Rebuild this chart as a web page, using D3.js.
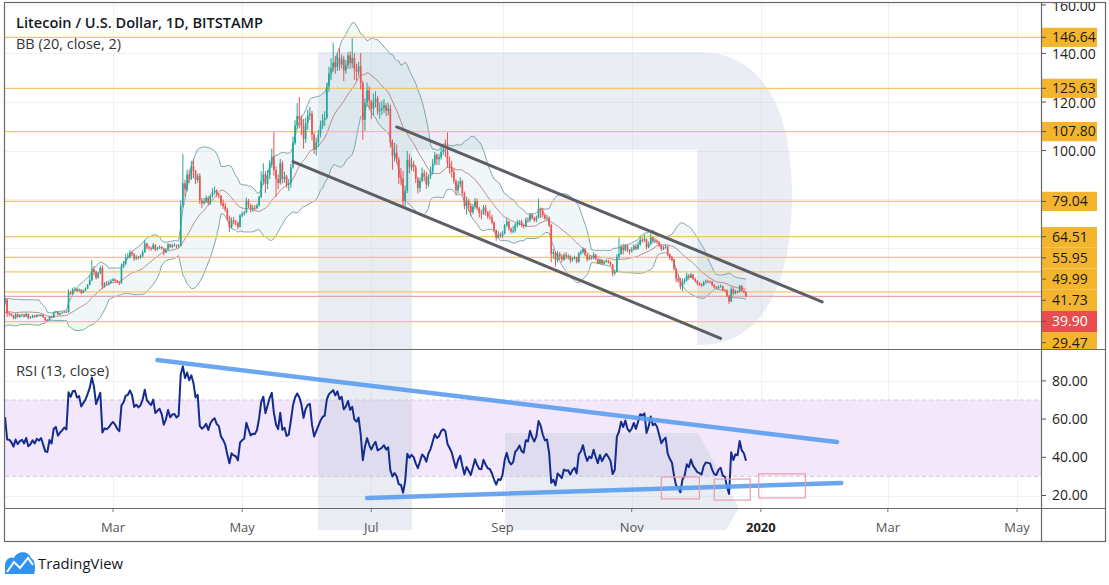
<!DOCTYPE html>
<html><head><meta charset="utf-8">
<script src="https://cdn.jsdelivr.net/npm/d3@7/dist/d3.min.js"></script>
<style>html,body{margin:0;padding:0;background:#fff;}svg{display:block;}</style>
</head><body>
<svg id="chart" width="1109" height="585"></svg>
<script>
// ---------------- DATA ----------------
const title = "Litecoin / U.S. Dollar, 1D, BITSTAMP";
const bbLabel = "BB (20, close, 2)";
const rsiLabel = "RSI (13, close)";
const startDate = "2019-01-09";          // first drawn candle
const warmupClose = [30.8,29.2,32.0,33.1,35.9,31.6,32.0,29.0,32.5,31.2,32.2,30.5,31.9,33.6,32.0,33.5,33.0,39.6,37.5,37.3];
const close = [
 // Jan 9-31
 38.6,32.9,32.8,32.1,30.9,32.6,31.4,32.1,32.4,31.6,32.7,30.9,31.3,32.0,31.4,32.2,31.9,32.3,31.3,30.1,30.0,31.6,31.1,
 // Feb
 33.3,33.6,32.4,32.9,33.2,33.6,33.4,41.5,40.9,42.8,43.0,42.2,42.6,41.4,42.3,43.1,44.6,46.6,51.1,50.0,47.6,49.5,51.6,44.0,45.2,45.0,45.5,46.3,
 // Mar
 46.9,46.4,45.7,45.3,52.1,53.2,55.8,56.1,58.0,57.3,55.5,56.2,55.8,56.4,58.1,61.7,60.2,59.8,59.5,61.1,59.2,59.8,60.3,59.6,58.1,59.2,61.3,60.3,60.9,61.0,60.6,
 // Apr
 60.9,77.4,86.5,84.0,90.1,88.3,93.5,91.6,87.8,89.6,79.4,78.3,79.1,80.5,78.4,81.3,82.8,83.6,81.9,81.3,78.2,77.1,75.6,72.1,68.5,71.2,70.4,70.1,68.6,73.2,
 // May
 73.9,74.4,79.3,77.6,75.9,76.4,76.3,77.4,80.8,87.4,90.2,86.3,89.8,94.2,97.5,92.0,88.2,86.6,94.8,88.2,89.3,85.9,86.5,93.1,103.2,110.3,114.2,112.8,110.1,104.8,111.3,
 // Jun
 114.5,115.2,106.5,100.4,103.5,106.8,110.2,112.6,113.5,126.4,131.8,133.9,136.2,134.3,138.2,135.4,137.6,133.0,135.1,139.2,136.0,138.1,133.4,132.5,134.8,127.9,112.6,119.7,124.8,120.5,
 // Jul
 117.3,119.8,121.5,116.2,116.8,117.5,118.6,116.4,117.3,103.2,97.8,99.1,96.3,88.8,88.4,79.2,83.5,96.2,93.1,94.6,93.0,88.4,84.6,87.5,90.6,89.2,86.0,89.4,91.3,94.6,98.1,
 // Aug
 96.4,97.2,99.5,100.3,99.6,94.8,93.1,91.2,87.4,83.6,86.0,87.3,82.4,77.1,79.4,77.2,74.6,76.8,79.2,76.3,74.2,74.1,76.6,74.5,72.7,72.4,70.3,67.2,64.2,65.4,64.9,
 // Sep
 65.9,69.1,70.8,67.8,66.6,67.1,69.4,69.9,70.8,69.3,68.9,71.5,71.2,73.6,72.2,71.3,72.4,76.1,75.2,73.4,72.1,72.3,69.2,57.4,58.1,54.8,57.4,56.3,55.1,56.9,
 // Oct
 56.4,56.5,54.8,55.6,56.0,54.1,57.6,58.2,59.5,57.0,55.2,56.0,55.6,57.1,55.3,53.6,55.0,53.4,54.1,54.6,53.9,53.0,49.4,50.0,56.2,57.4,60.1,59.0,60.8,59.1,58.5,
 // Nov
 59.2,60.6,59.5,61.2,63.2,63.0,63.5,60.2,61.6,64.2,62.6,63.0,62.4,61.0,59.4,60.0,60.4,57.2,56.0,55.1,51.3,47.2,46.4,44.0,46.0,46.6,48.5,47.6,48.9,47.1,
 // Dec 1-25
 46.2,45.2,44.9,44.5,45.6,46.1,46.0,45.9,44.6,43.6,43.4,43.9,44.1,42.6,42.4,40.1,37.8,42.9,41.1,42.0,41.8,44.1,42.2,41.6,39.9
];
const high = [
 39.0,38.9,33.5,33.0,32.3,33.0,32.9,32.6,32.8,32.6,33.2,32.8,31.8,32.4,32.3,32.5,32.6,32.5,32.4,31.3,30.6,31.9,31.9,
 33.7,34.0,33.7,33.2,33.5,33.9,33.8,42.9,42.3,43.5,43.8,43.3,43.2,42.9,42.7,43.6,45.0,48.8,54.8,52.3,50.5,50.0,52.3,52.6,45.8,46.2,46.4,47.0,
 47.5,47.2,46.7,46.0,53.5,54.5,57.3,57.8,59.2,58.6,57.8,56.9,56.6,57.2,58.9,63.2,62.0,60.9,60.4,61.9,61.4,60.3,60.9,60.5,60.0,59.8,61.9,61.6,61.5,61.8,61.3,
 61.5,79.5,98.5,88.0,92.0,92.2,95.8,96.5,92.0,90.5,90.6,80.5,80.5,81.5,81.2,82.0,84.5,85.2,84.0,82.5,81.7,79.8,78.5,76.4,73.2,72.5,72.6,71.5,70.8,73.9,
 74.8,75.2,80.6,80.1,78.0,77.5,77.6,78.2,81.5,91.5,94.8,91.5,92.0,96.0,100.8,107.5,93.5,90.1,96.5,95.8,91.2,90.0,88.2,94.5,105.8,112.5,119.5,122.0,114.5,113.0,113.5,
 116.8,118.0,116.3,107.5,105.3,108.5,112.3,115.0,116.2,128.0,134.5,138.0,144.5,139.0,140.2,142.0,139.5,138.9,137.2,140.5,140.8,146.2,140.0,135.8,136.5,140.2,128.8,121.5,128.0,126.5,
 121.0,123.5,124.4,122.5,119.8,120.5,121.2,119.5,119.6,118.9,104.5,103.2,102.5,97.2,92.8,91.5,85.5,99.8,98.4,97.2,95.8,94.0,89.2,88.9,93.0,92.1,91.2,90.2,93.4,96.5,99.5,
 98.9,98.6,101.0,102.5,104.5,107.5,97.4,95.8,92.5,88.2,87.5,88.9,88.0,83.1,81.0,80.2,78.4,77.9,80.5,80.2,76.9,75.6,77.5,77.6,75.1,75.3,73.5,70.9,67.5,66.8,66.3,
 66.8,69.7,72.2,71.1,68.3,68.9,70.1,71.5,71.3,71.5,69.9,72.4,72.6,74.3,74.1,72.9,73.2,80.2,76.6,76.3,74.2,73.5,72.8,69.8,59.5,58.4,58.6,58.2,57.2,57.8,
 58.2,57.3,56.9,56.1,56.7,56.3,58.2,59.1,60.1,59.8,57.6,56.8,56.7,58.1,57.4,55.6,55.6,55.3,54.9,55.2,55.0,54.4,53.2,50.9,57.3,64.2,61.3,61.6,61.5,61.3,59.4,
 60.2,61.3,61.5,62.5,65.0,64.2,65.5,63.8,62.5,65.8,64.5,63.9,63.4,62.6,61.4,60.7,61.2,60.8,57.6,56.6,55.4,51.5,48.9,47.6,47.2,47.5,49.6,49.1,49.6,49.1,
 47.6,46.6,45.8,45.3,46.3,46.8,46.8,46.5,46.2,44.9,44.2,44.4,44.8,44.3,43.0,42.7,40.5,43.8,43.6,42.6,42.4,44.7,44.6,42.5,42.0
];
const low = [
 36.5,31.5,31.7,31.6,30.6,30.6,31.2,31.1,31.5,31.2,31.5,30.5,30.7,31.0,31.1,31.3,31.7,31.6,31.0,29.6,29.4,29.8,30.9,
 31.0,33.1,32.2,32.2,32.8,33.1,33.0,33.2,40.5,40.6,42.0,41.7,41.8,40.8,41.2,42.1,42.9,44.4,46.1,48.5,46.8,47.3,49.1,42.8,43.6,44.5,44.4,45.3,
 46.1,45.8,45.3,44.6,45.1,51.6,52.8,55.2,55.6,56.5,54.5,54.9,55.1,55.5,56.1,57.9,59.4,58.9,58.7,59.2,58.5,58.8,59.4,59.2,56.8,57.8,59.0,59.8,59.8,60.4,59.8,
 59.9,60.7,76.5,81.0,83.2,86.5,87.8,88.7,86.1,86.7,77.9,76.2,77.7,78.3,77.4,77.6,80.6,81.9,80.8,80.2,77.1,75.9,74.8,71.3,66.5,67.8,69.5,69.0,67.5,68.2,
 72.5,73.2,74.1,76.3,74.5,74.8,75.4,75.7,76.9,80.4,85.9,82.5,84.1,88.2,92.9,89.6,80.8,84.0,85.9,86.4,86.8,84.7,83.4,84.5,92.6,102.4,108.9,109.2,106.3,100.8,103.2,
 108.5,112.6,104.2,98.6,97.9,101.5,105.4,108.9,110.2,112.8,124.2,129.0,132.5,131.6,132.8,133.0,133.8,128.6,131.5,133.8,133.6,134.0,129.1,128.7,130.6,125.2,104.5,108.1,118.2,116.9,
 112.9,114.5,117.8,114.8,113.1,114.6,115.5,114.2,114.5,101.2,92.1,95.5,94.8,86.2,85.7,76.4,77.1,82.5,90.6,91.7,91.3,86.6,82.3,82.8,86.9,87.3,84.2,85.0,88.2,90.1,93.8,
 94.0,94.1,96.2,98.1,97.2,92.9,90.5,88.8,86.4,81.5,82.3,84.7,81.5,75.8,73.5,75.1,73.0,73.8,75.9,75.3,72.4,71.6,73.5,73.2,71.9,71.5,69.6,66.5,62.8,63.8,64.0,
 64.1,65.4,68.6,66.9,65.8,65.9,66.2,68.3,69.1,68.4,67.8,68.4,70.2,70.6,71.6,70.5,70.6,72.0,72.2,72.4,71.4,71.2,68.5,53.9,55.4,52.1,53.8,55.1,54.0,54.5,
 55.2,55.1,53.6,54.2,55.1,53.6,53.8,56.9,57.5,56.6,54.2,54.9,55.0,55.2,54.9,53.1,53.2,52.9,53.1,53.8,53.5,52.5,48.1,48.6,49.8,55.0,57.0,57.2,58.4,58.2,57.2,
 57.9,58.8,58.9,59.1,60.8,61.9,62.3,59.3,59.8,60.9,61.8,61.9,61.4,60.2,58.6,59.0,59.6,56.5,54.9,54.2,50.6,45.8,45.5,42.8,42.1,44.9,45.9,46.8,47.4,46.7,
 45.6,44.5,44.2,43.8,44.1,45.2,45.4,45.3,44.1,43.2,42.9,42.9,43.5,42.1,41.9,39.5,36.8,37.5,40.3,40.8,41.2,41.5,41.8,41.2,39.6
];
const levels = [146.64,125.63,107.80,79.04,64.51,55.95,49.99,41.73,29.47];
const lastPrice = 39.90;
const priceTicks = [160,140,120,100];
const priceGrid = [160,140,120,100,80,60,40];
const rsiTicks = [80,60,40,20];
const rsiBand = [30,70];
const timeTicks = ["2019-03-01","2019-05-01","2019-07-01","2019-09-01","2019-11-01","2020-01-01","2020-03-01","2020-05-01"];
const timeLabels = ["Mar","May","Jul","Sep","Nov","2020","Mar","May"];
const channelUpper = [["2019-07-13",109.7],["2020-01-30",37.6]];
const channelLower = [["2019-05-25",95.4],["2019-12-13",22.6]];
const rsiUpper = [["2019-03-22",90.9],["2020-02-06",48.0]];
const rsiLower = [["2019-06-29",18.7],["2020-02-08",26.5]];
const rsiBoxes = [["2019-11-15","2019-12-03",29.7,18.2],["2019-12-10","2019-12-27",28.6,17.6],["2019-12-31","2020-01-22",31.3,18.7]];

// ---------------- LAYOUT ----------------
const L=5, R=1041, T=3, MB=349, RB=508, AB=541, FR=1105;
const FONT = "'Open Sans','Liberation Sans',Arial,sans-serif";
const parse = d3.utcParse("%Y-%m-%d");
const x = d3.scaleUtc().domain([parse("2019-03-01"), parse("2020-05-01")]).range([113,1017]);
const y = d3.scaleLinear().domain([20,160]).range([344.7,4.9]);
const yr = d3.scaleLinear().domain([20,80]).range([495.5,380.9]);

const start = parse(startDate);
const nW = warmupClose.length;
const allClose = warmupClose.concat(close);
const candles = close.map((c,i)=>({
  date:d3.utcDay.offset(start,i), o: i===0?warmupClose[nW-1]:close[i-1], c, h:high[i], l:low[i]}));

const bb = candles.map((d,i)=>{
  const k=i+nW; const w=allClose.slice(k-19,k+1);
  const m=d3.mean(w); const s=Math.sqrt(d3.mean(w.map(v=>(v-m)*(v-m))));
  return {date:d.date, m, u:m+2*s, lo:m-2*s};
});
const rsi=[]; {let ag=0, al=0; const n=13;
  for(let k=1;k<allClose.length;k++){
    const ch=allClose[k]-allClose[k-1]; const g=Math.max(ch,0), l=Math.max(-ch,0);
    if(k<=n){ag+=g/n; al+=l/n;} else {ag=(ag*(n-1)+g)/n; al=(al*(n-1)+l)/n;}
    if(k>=nW) rsi.push({date:candles[k-nW].date, v: al===0?100:100-100/(1+ag/al)});
  }}

const svg = d3.select("#chart");
const defs = svg.append("defs");
defs.append("clipPath").attr("id","cm").append("rect").attr("x",L).attr("y",T).attr("width",R-L).attr("height",MB-T);
defs.append("clipPath").attr("id","cr").append("rect").attr("x",L).attr("y",MB+1).attr("width",R-L).attr("height",RB-MB-1);
defs.append("clipPath").attr("id","ca").append("rect").attr("x",R).attr("y",T).attr("width",FR-R).attr("height",MB-T);
defs.append("clipPath").attr("id","call").append("rect").attr("x",L).attr("y",T).attr("width",FR-L).attr("height",AB-T);

svg.append("rect").attr("width",1109).attr("height",585).attr("fill","#fff");

const grid = svg.append("g").attr("stroke","#eef1f6").attr("stroke-width",1);
timeTicks.forEach(t=>grid.append("line").attr("x1",Math.round(x(parse(t)))+0.5).attr("x2",Math.round(x(parse(t)))+0.5).attr("y1",T).attr("y2",RB));
priceGrid.forEach(p=>grid.append("line").attr("x1",L).attr("x2",R).attr("y1",Math.round(y(p))+0.5).attr("y2",Math.round(y(p))+0.5));
rsiTicks.forEach(p=>grid.append("line").attr("x1",L).attr("x2",R).attr("y1",Math.round(yr(p))+0.5).attr("y2",Math.round(yr(p))+0.5));

const gb = svg.append("g").attr("clip-path","url(#cr)");
gb.append("rect").attr("x",L).attr("width",R-L).attr("y",yr(rsiBand[1])).attr("height",yr(rsiBand[0])-yr(rsiBand[1])).attr("fill","#f2e7fb");
rsiBand.forEach(v=>gb.append("line").attr("x1",L).attr("x2",R).attr("y1",yr(v)).attr("y2",yr(v)).attr("stroke","#d3cadb").attr("stroke-dasharray","4,3"));

// watermark (decorative logo)
const wm = svg.append("g").attr("clip-path","url(#call)").attr("fill","#b9c6da").attr("opacity",0.3);
wm.append("path").attr("fill-rule","evenodd").attr("d",
 "M318,52 H698 C765,52 792,112 792,195 C792,282 764,345 700,345 H412 V530 H318 Z M412,150 H697 V345 H412 Z");
wm.append("path").attr("d","M505,433 H698 L739,508 L726,530 H505 Z");

const gm = svg.append("g").attr("clip-path","url(#cm)");
gm.append("path").datum(bb).attr("fill","rgba(60,140,175,0.07)")
  .attr("d",d3.area().x(d=>x(d.date)).y0(d=>y(d.lo)).y1(d=>y(d.u)));
gm.append("path").datum(bb).attr("fill","none").attr("stroke","#7fa6aa").attr("stroke-width",1)
  .attr("d",d3.line().x(d=>x(d.date)).y(d=>y(d.u)));
gm.append("path").datum(bb).attr("fill","none").attr("stroke","#7fa6aa").attr("stroke-width",1)
  .attr("d",d3.line().x(d=>x(d.date)).y(d=>y(d.lo)));
gm.append("path").datum(bb).attr("fill","none").attr("stroke","#a65a5a").attr("stroke-width",0.9).attr("opacity",0.75)
  .attr("d",d3.line().x(d=>x(d.date)).y(d=>y(d.m)));
levels.forEach(p=>gm.append("line").attr("x1",L).attr("x2",R).attr("y1",y(p)).attr("y2",y(p)).attr("stroke","#f2c56e").attr("stroke-width",1.3));
gm.append("line").attr("x1",L).attr("x2",R).attr("y1",y(lastPrice)).attr("y2",y(lastPrice)).attr("stroke","#e7a3ab").attr("stroke-width",1.2);

const cg = gm.append("g");
candles.forEach(d=>{
  const up = d.c>=d.o, col = up?"#26a69a":"#ef5350";
  const cx = x(d.date);
  cg.append("line").attr("x1",cx).attr("x2",cx).attr("y1",y(Math.max(d.h,d.o,d.c))).attr("y2",y(Math.min(d.l,d.o,d.c))).attr("stroke",col).attr("stroke-width",1);
  const top=y(Math.max(d.o,d.c)), bot=y(Math.min(d.o,d.c));
  cg.append("rect").attr("x",cx-0.85).attr("width",1.7).attr("y",top).attr("height",Math.max(0.8,bot-top)).attr("fill",col);
});
[channelUpper,channelLower].forEach(ln=>gm.append("line")
  .attr("x1",x(parse(ln[0][0]))).attr("y1",y(ln[0][1])).attr("x2",x(parse(ln[1][0]))).attr("y2",y(ln[1][1]))
  .attr("stroke","#5e5e66").attr("stroke-width",3).attr("stroke-linecap","round"));

const gr = svg.append("g").attr("clip-path","url(#cr)");
gr.append("path").datum(rsi).attr("fill","none").attr("stroke","#142c8e").attr("stroke-width",2).attr("stroke-linejoin","round")
  .attr("d",d3.line().x(d=>x(d.date)).y(d=>yr(d.v)));
[rsiUpper,rsiLower].forEach(ln=>gr.append("line")
  .attr("x1",x(parse(ln[0][0]))).attr("y1",yr(ln[0][1])).attr("x2",x(parse(ln[1][0]))).attr("y2",yr(ln[1][1]))
  .attr("stroke","#5b9ef0").attr("stroke-width",4.5).attr("stroke-linecap","round").attr("opacity",0.9));
rsiBoxes.forEach(b=>{
  const x1=x(parse(b[0])), x2=x(parse(b[1]));
  gr.append("rect").attr("x",x1).attr("y",yr(b[2])).attr("width",x2-x1).attr("height",yr(b[3])-yr(b[2]))
    .attr("fill","none").attr("stroke","#f09aa8").attr("stroke-width",1.2);
});

svg.append("text").attr("x",16).attr("y",28).attr("font-family",FONT).attr("font-size",15).attr("font-weight",600)
  .attr("fill","#131722").attr("textLength",247).attr("lengthAdjust","spacingAndGlyphs").text(title);
svg.append("text").attr("x",16).attr("y",49).attr("font-family",FONT).attr("font-size",15)
  .attr("fill","#333").attr("textLength",105).attr("lengthAdjust","spacingAndGlyphs").text(bbLabel);
svg.append("text").attr("x",16).attr("y",376).attr("font-family",FONT).attr("font-size",15)
  .attr("fill","#333").attr("textLength",93).attr("lengthAdjust","spacingAndGlyphs").text(rsiLabel);

const ga = svg.append("g").attr("clip-path","url(#ca)").attr("font-family",FONT).attr("font-size",14);
priceTicks.forEach(p=>{
  ga.append("line").attr("x1",R).attr("x2",R+5).attr("y1",y(p)).attr("y2",y(p)).attr("stroke","#555");
  ga.append("text").attr("x",1052).attr("y",y(p)+1).attr("dy","0.35em").attr("fill","#222").text(p.toFixed(2));
});
const lab = levels.map(p=>({p,col:"#f3b52d",tc:"#1b1b1b"})).concat([{p:lastPrice,col:"#ea4d4f",tc:"#fff"}]).sort((a,b)=>b.p-a.p);
let prev=-1e9; const GAP=21.2, HB=9.6;
lab.forEach(d=>{ d.pos=Math.max(y(d.p),prev+GAP); prev=d.pos; });
lab.forEach((d,i)=>{
  const nx = lab[i+1], pv = lab[i-1];
  const top = (pv && d.pos-pv.pos<=GAP+0.01) ? d.pos-GAP/2 : d.pos-HB;
  const bot = (nx && nx.pos-d.pos<=GAP+0.01) ? d.pos+GAP/2 : d.pos+HB;
  ga.append("rect").attr("x",R+1).attr("y",top).attr("width",55).attr("height",bot-top).attr("fill",d.col);
  ga.append("line").attr("x1",R).attr("x2",R+5).attr("y1",d.pos).attr("y2",d.pos).attr("stroke","#555");
  ga.append("text").attr("x",1052).attr("y",d.pos).attr("dy","0.35em").attr("fill",d.tc).text(d.p.toFixed(2));
});
rsiTicks.forEach(p=>{
  svg.append("line").attr("x1",R).attr("x2",R+5).attr("y1",yr(p)).attr("y2",yr(p)).attr("stroke","#555");
  svg.append("text").attr("x",1052).attr("y",yr(p)).attr("dy","0.35em").attr("font-family",FONT).attr("font-size",14).attr("fill","#222").text(p.toFixed(2));
});

timeTicks.forEach((t,i)=>{
  const tx=x(parse(t));
  svg.append("line").attr("x1",tx).attr("x2",tx).attr("y1",RB).attr("y2",RB+4).attr("stroke","#777");
  svg.append("text").attr("x",tx).attr("y",532).attr("text-anchor","middle").attr("font-family",FONT).attr("font-size",13)
    .attr("font-weight",timeLabels[i]==="2020"?700:400).attr("fill",timeLabels[i]==="2020"?"#222":"#555").text(timeLabels[i]);
});

const bd = svg.append("g").attr("stroke","#6a6a6a").attr("stroke-width",1.2).attr("fill","none");
bd.append("rect").attr("x",L-0.5).attr("y",T-0.5).attr("width",FR-L+1).attr("height",AB-T+1);
bd.append("line").attr("x1",R+0.5).attr("x2",R+0.5).attr("y1",T).attr("y2",AB);
bd.append("line").attr("x1",L).attr("x2",FR).attr("y1",MB+0.5).attr("y2",MB+0.5);
bd.append("line").attr("x1",L).attr("x2",FR).attr("y1",RB+0.5).attr("y2",RB+0.5);

const lg = svg.append("g");
lg.append("path").attr("fill","#2f94f0").attr("d","M5,574 L5,566 C5,560 9,556 14,558 C17,551 28,550 31,558 C35,560 36,568 34,574 Z");
lg.append("path").attr("fill","none").attr("stroke","#fff").attr("stroke-width",2).attr("d","M7,572 L14,562 L20,568 L28,558 L33,565");
lg.append("text").attr("x",38).attr("y",569).attr("font-family",FONT).attr("font-size",15).attr("fill","#131722")
  .attr("textLength",85).attr("lengthAdjust","spacingAndGlyphs").text("TradingView");
</script>
</body></html>
